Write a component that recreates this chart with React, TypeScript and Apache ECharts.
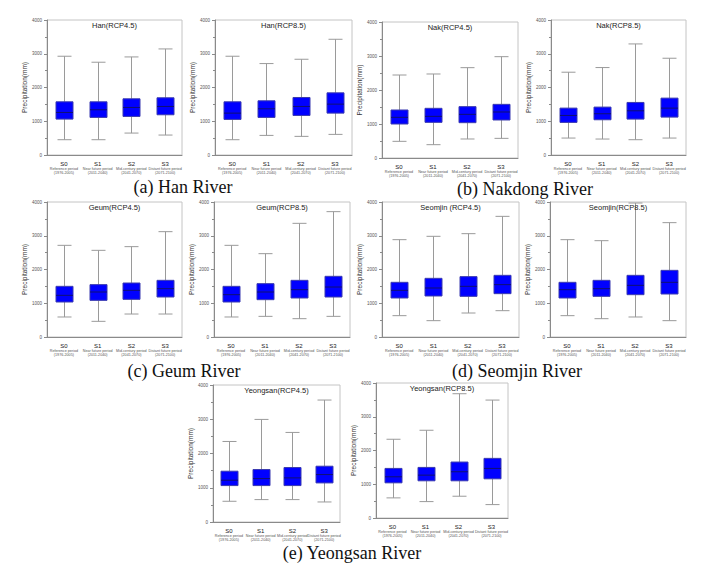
import React, { useEffect, useRef } from "react";
import * as echarts from "echarts";

// Categories (x-axis)
const periodCodes = ["S0", "S1", "S2", "S3"];
const periodNames = ["Reference period", "Near future period", "Mid-century period", "Distant future period"];
const periodYears = ["(1976-2005)", "(2011-2040)", "(2041-2070)", "(2071-2100)"];

// Box values: [min, Q1, median, Q3, max] per period (mm)
const hanRcp45 = [[453, 1064, 1261, 1576, 2926], [453, 1113, 1340, 1576, 2749], [650, 1143, 1409, 1665, 2906], [591, 1192, 1438, 1695, 3143]];
const hanRcp85 = [[453, 1054, 1241, 1576, 2926], [581, 1113, 1369, 1606, 2709], [552, 1172, 1438, 1704, 2837], [611, 1241, 1507, 1842, 3429]];
const nakRcp45 = [[490, 1000, 1196, 1412, 2441], [392, 1049, 1225, 1461, 2471], [559, 1039, 1284, 1510, 2657], [578, 1118, 1353, 1578, 2980]];
const nakRcp85 = [[502, 966, 1172, 1389, 2453], [473, 1044, 1222, 1419, 2591], [453, 1064, 1310, 1557, 3291], [502, 1123, 1389, 1685, 2867]];
const geumRcp45 = [[593, 1037, 1235, 1501, 2716], [464, 1086, 1333, 1551, 2568], [681, 1116, 1383, 1600, 2677], [681, 1185, 1432, 1679, 3121]];
const geumRcp85 = [[593, 1037, 1254, 1501, 2716], [612, 1106, 1333, 1580, 2469], [543, 1156, 1402, 1679, 3368], [612, 1185, 1481, 1798, 3714]];
const seomjinRcp45 = [[632, 1156, 1383, 1620, 2884], [484, 1215, 1452, 1738, 2983], [711, 1205, 1501, 1788, 3062], [780, 1284, 1551, 1827, 3575]];
const seomjinRcp85 = [[632, 1156, 1402, 1620, 2884], [543, 1205, 1432, 1679, 2854], [593, 1254, 1531, 1827, 3970], [484, 1274, 1620, 1975, 3388]];
const yeongsanRcp45 = [[605, 1063, 1220, 1483, 2351], [654, 1063, 1268, 1532, 2995], [654, 1063, 1288, 1590, 2615], [585, 1141, 1385, 1629, 3561]];
const yeongsanRcp85 = [[596, 1042, 1221, 1469, 2333], [486, 1102, 1270, 1499, 2600], [645, 1102, 1370, 1658, 3682], [397, 1161, 1469, 1767, 3494]];

const panelTitles = [
  "Han(RCP4.5)", "Han(RCP8.5)", "Nak(RCP4.5)", "Nak(RCP8.5)",
  "Geum(RCP4.5)", "Geum(RCP8.5)", "Seomjin (RCP4.5)", "Seomjin(RCP8.5)",
  "Yeongsan(RCP4.5)", "Yeongsan(RCP8.5)",
];
const panelData = [hanRcp45, hanRcp85, nakRcp45, nakRcp85, geumRcp45, geumRcp85, seomjinRcp45, seomjinRcp85, yeongsanRcp45, yeongsanRcp85];
const captions = ["(a) Han River", "(b) Nakdong River", "(c) Geum River", "(d) Seomjin River", "(e) Yeongsan River"];
const yAxisName = "Precipitation(mm)";

// Layout (positions only)
const grids = [
  { left: 47, top: 20, width: 135, height: 135 },
  { left: 215, top: 20, width: 137, height: 135 },
  { left: 382, top: 22, width: 136, height: 136 },
  { left: 551, top: 20, width: 135, height: 135 },
  { left: 47, top: 202, width: 135, height: 135 },
  { left: 214, top: 202, width: 136, height: 135 },
  { left: 382, top: 202, width: 137, height: 135 },
  { left: 550, top: 202, width: 136, height: 135 },
  { left: 213, top: 385, width: 127, height: 137 },
  { left: 376, top: 383, width: 132, height: 135 },
];
const captionPos = [
  [183, 187], [525, 189], [184, 371], [517, 371], [352, 553],
];

const SANS = "Liberation Sans, Arial, sans-serif";
const BOX_W = 17;
const CAP_W = 14;
const WHISKER = "#9a9a9a";

function renderBox(params: any, api: any) {
  const x = api.value(0);
  const pMin = api.coord([x, api.value(1)]);
  const pQ1 = api.coord([x, api.value(2)]);
  const pMed = api.coord([x, api.value(3)]);
  const pQ3 = api.coord([x, api.value(4)]);
  const pMax = api.coord([x, api.value(5)]);
  const cx = Math.round(pMin[0]) + 0.5;
  const hb = BOX_W / 2;
  const hc = CAP_W / 2;
  const ws = { stroke: WHISKER, lineWidth: 1 };
  return {
    type: "group",
    children: [
      { type: "line", shape: { x1: cx, y1: pMax[1], x2: cx, y2: pQ3[1] }, style: ws },
      { type: "line", shape: { x1: cx, y1: pQ1[1], x2: cx, y2: pMin[1] }, style: ws },
      { type: "line", shape: { x1: cx - hc, y1: pMax[1], x2: cx + hc, y2: pMax[1] }, style: ws },
      { type: "line", shape: { x1: cx - hc, y1: pMin[1], x2: cx + hc, y2: pMin[1] }, style: ws },
      {
        type: "rect",
        shape: { x: cx - hb, y: pQ3[1], width: BOX_W, height: pQ1[1] - pQ3[1] },
        style: { fill: "#0000ff", stroke: "#3a3ab0", lineWidth: 1 },
      },
      {
        type: "line",
        shape: { x1: cx - hb, y1: pMed[1], x2: cx + hb, y2: pMed[1] },
        style: { stroke: "#101070", lineWidth: 1 },
      },
    ],
  };
}

export default function App() {
  const ref = useRef<HTMLDivElement>(null);
  useEffect(() => {
    if (!ref.current) return;
    const chart = echarts.init(ref.current, null, { renderer: "svg" });
    const categories = periodCodes.map((c, i) => `{a|${c}}\n{b|${periodNames[i]}}\n{b|${periodYears[i]}}`);

    const gridOpts: any[] = [];
    const xAxes: any[] = [];
    const yAxes: any[] = [];
    const series: any[] = [];
    const graphics: any[] = [];

    panelData.forEach((data, i) => {
      const g = grids[i];
      gridOpts.push({ ...g, show: true, borderColor: "#c4c4c4", borderWidth: 1, backgroundColor: "#fff" });
      xAxes.push({
        type: "category",
        gridIndex: i,
        data: categories,
        boundaryGap: true,
        axisLine: { lineStyle: { color: "#8a8a8a", width: 1 } },
        axisTick: { alignWithLabel: true, length: 3, lineStyle: { color: "#8a8a8a" } },
        axisLabel: {
          interval: 0,
          margin: 5,
          color: "#333",
          fontFamily: SANS,
          rich: {
            a: { fontSize: 6, lineHeight: 7, color: "#222", fontFamily: SANS },
            b: { fontSize: 3.7, lineHeight: 4.3, color: "#555", fontFamily: SANS },
          },
        },
      });
      yAxes.push({
        type: "value",
        gridIndex: i,
        min: 0,
        max: 4000,
        interval: 1000,
        name: yAxisName,
        nameLocation: "middle",
        nameRotate: 90,
        nameGap: 16,
        nameTextStyle: { fontSize: 6.5, color: "#333", fontFamily: SANS },
        splitLine: { show: false },
        axisLine: { show: true, lineStyle: { color: "#8a8a8a", width: 1 } },
        axisTick: { show: true, length: 3, lineStyle: { color: "#8a8a8a" } },
        minorTick: { show: true, splitNumber: 2, length: 2, lineStyle: { color: "#8a8a8a" } },
        axisLabel: { fontSize: 4.5, color: "#555", margin: 5, fontFamily: SANS, formatter: (v: number) => String(v) },
      });
      series.push({
        type: "custom",
        xAxisIndex: i,
        yAxisIndex: i,
        silent: true,
        renderItem: renderBox,
        encode: { x: 0, y: [1, 2, 3, 4, 5] },
        data: data.map((d, k) => [k, ...d]),
        z: 3,
      });
      graphics.push({
        type: "text",
        x: g.left + g.width / 2,
        y: g.top + 5,
        style: {
          text: panelTitles[i],
          fontSize: 7.5,
          fill: "#222",
          fontFamily: SANS,
          align: "center",
          verticalAlign: "middle",
        },
        z: 10,
      });
    });

    captions.forEach((c, i) => {
      graphics.push({
        type: "text",
        x: captionPos[i][0],
        y: captionPos[i][1],
        style: {
          text: c,
          fontSize: 18,
          fill: "#111",
          fontFamily: "Liberation Serif, DejaVu Serif, serif",
          align: "center",
          verticalAlign: "middle",
        },
      });
    });

    chart.setOption({
      animation: false,
      backgroundColor: "#fff",
      grid: gridOpts,
      xAxis: xAxes,
      yAxis: yAxes,
      series,
      graphic: graphics,
    });
    return () => chart.dispose();
  }, []);
  return (
    <div
      ref={ref}
      style={{ position: "absolute", left: 0, top: 0, width: 703, height: 566, background: "#fff" }}
    />
  );
}
